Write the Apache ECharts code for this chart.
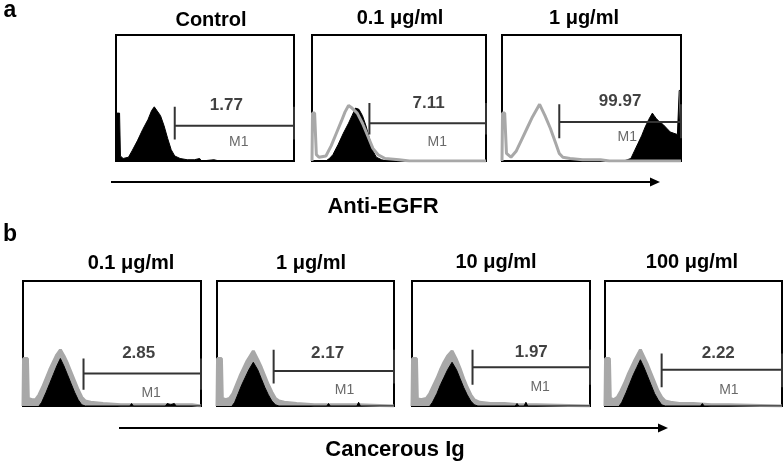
<!DOCTYPE html>
<html>
<head>
<meta charset="utf-8">
<script src="https://cdn.jsdelivr.net/npm/echarts@6/dist/echarts.min.js"></script>
<style>
html,body{margin:0;padding:0;background:#fff;}
#chart{width:784px;height:462px;}
</style>
</head>
<body>
<div id="chart"></div>
<script>
// ---------- data ----------
const panelTitles = ['Control', '0.1 μg/ml', '1 μg/ml', '0.1 μg/ml', '1 μg/ml', '10 μg/ml', '100 μg/ml'];
const gateValues = ['1.77', '7.11', '99.97', '2.85', '2.17', '1.97', '2.22'];
const gateLabel = 'M1';
const gateStartX = [33, 33, 32, 34, 32, 34, 32];
const gateLevel = [28, 30, 31, 26, 28, 31, 29];
const gateTickLow = [17, 21, 18, 13, 18, 17, 15];
const gateTickHigh = [43, 46, 45, 38, 45, 45, 42];
const valueLabelPos = [[62, 44], [67, 46], [66, 47], [65, 42], [62.5, 42], [67, 43], [64, 42]];
const m1LabelPos = [[69, 15], [72, 15], [70, 19], [72, 10], [72, 13], [72, 15], [70, 13]];
const axisTitleA = 'Anti-EGFR';
const axisTitleB = 'Cancerous Ig';

// black filled histograms (stained)
const black1 = [[0,0],[0.3,38],[2,38],[2.5,4],[4,2],[7,3],[9,8],[12,16],[15,25],[18,33],[20,40],[21.5,43],[23,40],[25,36],[27,28],[29,18],[31,9],[33,4],[36,2],[40,1],[44,1],[47,2],[48,0],[55,1],[58,0],[100,0]];
const black2 = [[8,0],[10,2],[12,5],[15,13],[18,22],[21,30],[23,36],[25,42],[26,43],[27,41],[29,36],[31,28],[33,18],[35,8],[37,3],[40,1],[43,0],[100,0]];
const black3 = [[0,0],[68,0],[70,1],[72,2],[74,8],[76,14],[78,20],[80,27],[82,33],[84,38],[85,36],[86,34],[88,31],[90,29],[92,26],[94,23],[96,22],[98,21],[98.8,21],[99,56],[100,56]];
const black4 = [[9,0],[10.5,3],[13,11],[15,18],[17,25],[19,32],[21,38],[23,32],[25,25],[27,18],[29,11],[31,5],[33,1],[35,0],[60,0],[61,2],[62,0],[80,0],[81,2],[83,1],[85,2],[86,0],[100,0]];
const black5 = [[8.5,0],[10,3],[12,10],[14,17],[16,23],[18,29],[20.5,35],[23,29],[25,22],[27,15],[29,9],[31,4],[33,1],[35,0],[62,0],[63,2],[64,0],[79,0],[80,3],[81,0],[100,0]];
const black6 = [[10,0],[11.5,3],[14,10],[16,17],[18,23],[20,29],[22.5,35],[25,29],[27,22],[29,15],[31,9],[33,4],[35,1],[37,0],[58,0],[59,2],[60,0],[63,0],[64,3],[65,0],[100,0]];
const black7 = [[8,0],[9.5,3],[12,11],[14,18],[16,25],[18,31],[20,37],[22,31],[24,24],[26,17],[28,10],[30,5],[32,1],[34,0],[54,0],[55,2],[56,0],[100,0]];

// gray outline histograms (control Ig)
const gray1 = null;
const gray2 = [[0,0],[0.3,38],[1.5,38],[2.5,5],[4,3],[8,4],[11,12],[14,22],[17,32],[19,39],[21,44],[23,42],[26,38],[29,30],[32,20],[35,10],[38,5],[42,2],[50,1],[56,0],[100,0]];
const gray3 = [[0,0],[0.3,38],[1.5,38],[2.5,6],[5,3],[8,8],[11,17],[14,26],[17,35],[21,45],[24,36],[27,26],[30,14],[32,6],[34,3],[38,2],[45,1],[55,1],[60,0],[100,0]];
const gray4 = [[0,0],[0.3,38],[2.5,38],[3,6],[5,5],[7,5],[9,9],[11,15],[13,22],[15,29],[17,35],[19,41],[21,45],[23,40],[25,34],[27,27],[29,20],[31,13],[33,7],[35,4],[38,3],[45,2],[55,1],[65,1],[75,1],[85,1],[95,1],[100,0]];
const gray5 = [[0,0],[0.3,38],[2.5,38],[3,6],[5,5],[7,6],[9,10],[11,17],[13,24],[15,30],[17,36],[20.5,44],[23,37],[25,31],[27,24],[29,17],[31,11],[33,6],[35,4],[38,3],[45,2],[55,1],[65,1],[80,1],[100,0]];
const gray6 = [[0,0],[0.3,38],[2.5,38],[3,6],[5,5],[8,6],[10,10],[12,16],[14,22],[16,29],[18,35],[20,40],[22.5,44],[25,37],[27,30],[29,22],[31,15],[33,9],[35,5],[38,3],[44,2],[52,2],[60,1],[70,1],[100,0]];
const gray7 = [[0,0],[0.3,38],[2.5,38],[3,6],[5,5],[7,7],[9,12],[11,18],[13,25],[15,31],[17,37],[20,45],[22,39],[24,33],[26,26],[28,19],[30,12],[32,7],[34,4],[37,3],[42,2],[50,2],[60,1],[70,1],[100,0]];

const blackHists = [black1, black2, black3, black4, black5, black6, black7];
const grayHists = [gray1, gray2, gray3, gray4, gray5, gray6, gray7];

// ---------- layout ----------
const grids = [
  {left: 116, top: 35, width: 178, height: 126},
  {left: 312, top: 35, width: 174, height: 126},
  {left: 502, top: 35, width: 179, height: 126},
  {left: 23,  top: 281, width: 178, height: 125},
  {left: 217, top: 281, width: 177, height: 125},
  {left: 412, top: 281, width: 178, height: 125},
  {left: 605, top: 281, width: 177, height: 125}
];
const titleCenters = [[211, 20], [400, 18], [584, 18], [131, 263], [311, 263], [496, 262], [692, 262]];

const FONT = '"Liberation Sans", Arial, sans-serif';

const option = {
  animation: false,
  backgroundColor: '#fff',
  grid: grids.map(g => Object.assign({show: true, borderColor: '#000', borderWidth: 2, backgroundColor: 'transparent'}, g)),
  xAxis: grids.map((g, i) => ({
    type: 'value', gridIndex: i, min: 0, max: 100,
    axisLine: {show: false}, axisTick: {show: false}, axisLabel: {show: false}, splitLine: {show: false}
  })),
  yAxis: grids.map((g, i) => ({
    type: 'value', gridIndex: i, min: 0, max: 100,
    axisLine: {show: false}, axisTick: {show: false}, axisLabel: {show: false}, splitLine: {show: false}
  })),
  series: [],
  graphic: []
};

for (let i = 0; i < 7; i++) {
  const rowB = i >= 3;
  if (grayHists[i] && rowB) {
    // filled gray halo underneath
    option.series.push({
      type: 'line', xAxisIndex: i, yAxisIndex: i, data: grayHists[i],
      symbol: 'none', lineStyle: {color: '#a8a8a8', width: 3}, areaStyle: {color: '#a8a8a8', opacity: 1}, z: 1
    });
  }
  option.series.push({
    type: 'line', xAxisIndex: i, yAxisIndex: i, data: blackHists[i],
    symbol: 'none', lineStyle: {color: '#000', width: 1}, areaStyle: {color: '#000', opacity: 1}, z: 2
  });
  if (grayHists[i] && !rowB) {
    option.series.push({
      type: 'line', xAxisIndex: i, yAxisIndex: i, data: grayHists[i],
      symbol: 'none', lineStyle: {color: '#a8a8a8', width: 3}, z: 3
    });
  }
  const x0 = gateStartX[i];
  option.series.push({
    type: 'line', xAxisIndex: i, yAxisIndex: i,
    data: [[x0, gateTickHigh[i]], [x0, gateTickLow[i]], [x0, gateLevel[i]], [100, gateLevel[i]], [100, gateTickHigh[i]], [100, gateTickLow[i]]],
    symbol: 'none', lineStyle: {color: '#333', width: 2}, z: 4
  });
  option.series.push({
    type: 'scatter', xAxisIndex: i, yAxisIndex: i, data: [valueLabelPos[i]], symbolSize: 0, silent: true,
    label: {show: true, position: 'inside', formatter: () => gateValues[i], color: '#111', fontFamily: FONT, fontWeight: 'bold', fontSize: 17}, z: 5
  });
  option.series.push({
    type: 'scatter', xAxisIndex: i, yAxisIndex: i, data: [m1LabelPos[i]], symbolSize: 0, silent: true,
    label: {show: true, position: 'inside', formatter: () => gateLabel, color: '#444', fontFamily: FONT, fontSize: 14}, z: 5
  });
  option.graphic.push({
    type: 'text', x: titleCenters[i][0], y: titleCenters[i][1],
    style: {text: panelTitles[i], fill: '#000', font: 'bold 20px ' + FONT, textAlign: 'center', textVerticalAlign: 'middle'}
  });
}

// panel letters
option.graphic.push({type: 'text', x: 10, y: 11, style: {text: 'a', fill: '#000', font: 'bold 23px ' + FONT, textAlign: 'center', textVerticalAlign: 'middle'}});
option.graphic.push({type: 'text', x: 10, y: 235, style: {text: 'b', fill: '#000', font: 'bold 23px ' + FONT, textAlign: 'center', textVerticalAlign: 'middle'}});

// arrows
function arrow(x1, x2, y) {
  return [
    {type: 'line', shape: {x1: x1, y1: y, x2: x2 - 8, y2: y}, style: {stroke: '#000', lineWidth: 2}},
    {type: 'polygon', shape: {points: [[x2 - 10, y - 4.5], [x2, y], [x2 - 10, y + 4.5]]}, style: {fill: '#000'}}
  ];
}
option.graphic.push(...arrow(111, 660, 182));
option.graphic.push(...arrow(119, 668, 428));
option.graphic.push({type: 'text', x: 383, y: 207, style: {text: axisTitleA, fill: '#000', font: 'bold 22px ' + FONT, textAlign: 'center', textVerticalAlign: 'middle'}});
option.graphic.push({type: 'text', x: 395, y: 450, style: {text: axisTitleB, fill: '#000', font: 'bold 22px ' + FONT, textAlign: 'center', textVerticalAlign: 'middle'}});

const chart = echarts.init(document.getElementById('chart'), null, {renderer: 'canvas'});
chart.setOption(option);
</script>
</body>
</html>
